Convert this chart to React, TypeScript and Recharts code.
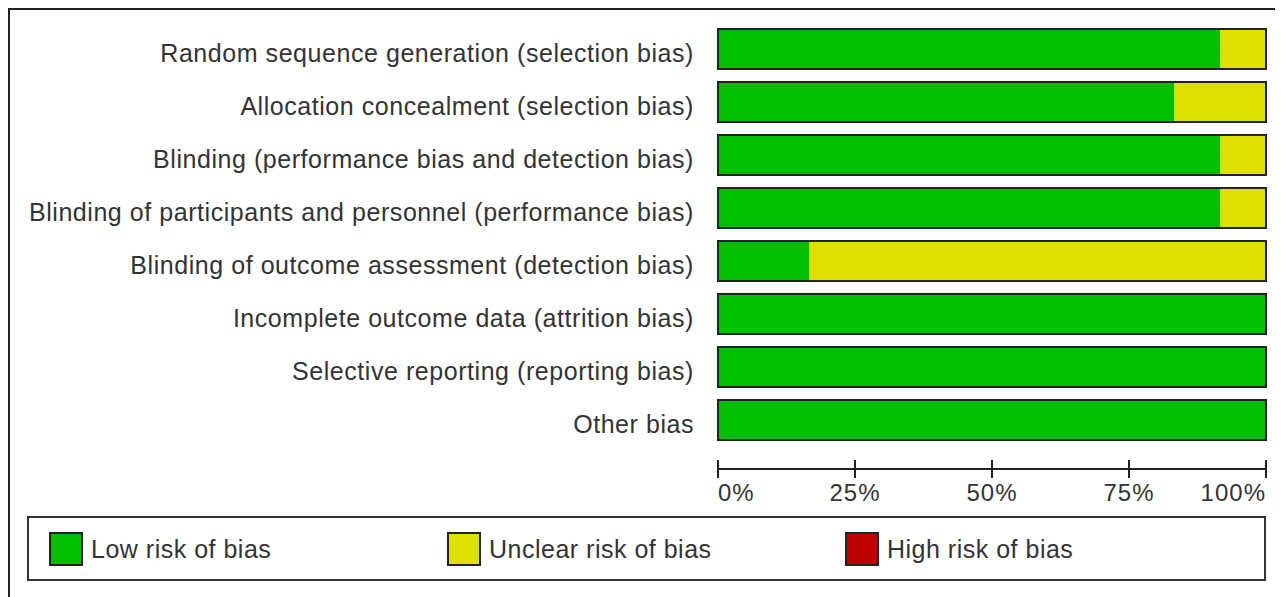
import React from "react";
import { BarChart, Bar, XAxis, YAxis } from "recharts";

const DOMAINS = [
  "Random sequence generation (selection bias)",
  "Allocation concealment (selection bias)",
  "Blinding (performance bias and detection bias)",
  "Blinding of participants and personnel (performance bias)",
  "Blinding of outcome assessment (detection bias)",
  "Incomplete outcome data (attrition bias)",
  "Selective reporting (reporting bias)",
  "Other bias",
];

// percentages of studies
const LOW = [91.7, 83.3, 91.7, 91.7, 16.7, 100, 100, 100];
const UNCLEAR = [8.3, 16.7, 8.3, 8.3, 83.3, 0, 0, 0];
const HIGH = [0, 0, 0, 0, 0, 0, 0, 0];

const X_TICKS = [0, 25, 50, 75, 100];

const LEGEND = [
  { label: "Low risk of bias", color: "#00BF00" },
  { label: "Unclear risk of bias", color: "#E0E000" },
  { label: "High risk of bias", color: "#C00000" },
];

const FONT = "'Liberation Sans', Arial, sans-serif";
const TEXT = "#333";

const data = DOMAINS.map((name, i) => ({
  name,
  low: LOW[i],
  unclear: UNCLEAR[i],
  high: HIGH[i],
  total: LOW[i] + UNCLEAR[i] + HIGH[i],
}));

const YTick = ({ x, y, payload }: any) => (
  <text
    x={x}
    y={y + 13}
    textAnchor="end"
    fill={TEXT}
    fontSize={25}
    fontFamily={FONT}
    letterSpacing={0.55}
  >
    {payload.value}
  </text>
);

const XTick = ({ x, y, payload, index }: any) => {
  const anchor = index === 0 ? "start" : index === X_TICKS.length - 1 ? "end" : "middle";
  return (
    <g>
      <line x1={x} x2={x} y1={y - 9} y2={y + 9} stroke="#222" strokeWidth={2} />
      <text
        x={x}
        y={y + 32}
        textAnchor={anchor}
        fill={TEXT}
        fontSize={24}
        fontFamily={FONT}
        letterSpacing={1}
      >
        {payload.value}%
      </text>
    </g>
  );
};

export default function App() {
  return (
    <div
      style={{
        position: "relative",
        width: 1290,
        height: 600,
        border: "2px solid #222",
        boxSizing: "border-box",
        overflow: "hidden",
        background: "#fff",
        fontFamily: FONT,
      }}
    >
      <div style={{ position: "absolute", left: 0, top: 0 }}>
        <BarChart
          width={1270}
          height={499}
          data={data}
          layout="vertical"
          barSize={40}
          barGap={-40}
          margin={{ top: 12, right: 14, left: 0, bottom: 0 }}
        >
          <XAxis
            type="number"
            domain={[0, 100]}
            ticks={X_TICKS}
            tick={<XTick />}
            tickSize={0}
            tickMargin={0}
            tickLine={false}
            axisLine={{ stroke: "#222", strokeWidth: 2 }}
            height={40}
            interval={0}
          />
          <YAxis
            type="category"
            dataKey="name"
            width={708}
            tick={<YTick />}
            tickSize={0}
            tickMargin={24}
            tickLine={false}
            axisLine={false}
            padding={{ top: 0, bottom: 23 }}
            interval={0}
          />
          <Bar dataKey="low" stackId="a" fill={LEGEND[0].color} isAnimationActive={false} />
          <Bar dataKey="unclear" stackId="a" fill={LEGEND[1].color} isAnimationActive={false} />
          <Bar dataKey="high" stackId="a" fill={LEGEND[2].color} isAnimationActive={false} />
          <Bar dataKey="total" fill="none" stroke="#222" strokeWidth={2} isAnimationActive={false} />
        </BarChart>
      </div>
      <div
        style={{
          position: "absolute",
          left: 17,
          top: 506,
          width: 1239,
          height: 65,
          border: "2px solid #333",
          boxSizing: "border-box",
        }}
      >
        {LEGEND.map((item, i) => (
          <div
            key={item.label}
            style={{
              position: "absolute",
              left: 20 + i * 398,
              top: 14,
              display: "flex",
              alignItems: "center",
              height: 34,
            }}
          >
            <div
              style={{
                width: 34,
                height: 34,
                boxSizing: "border-box",
                border: "2px solid #222",
                background: item.color,
              }}
            />
            <span
              style={{
                marginLeft: 8,
                fontSize: 25,
                color: TEXT,
                letterSpacing: 0.5,
                lineHeight: "34px",
              }}
            >
              {item.label}
            </span>
          </div>
        ))}
      </div>
    </div>
  );
}
